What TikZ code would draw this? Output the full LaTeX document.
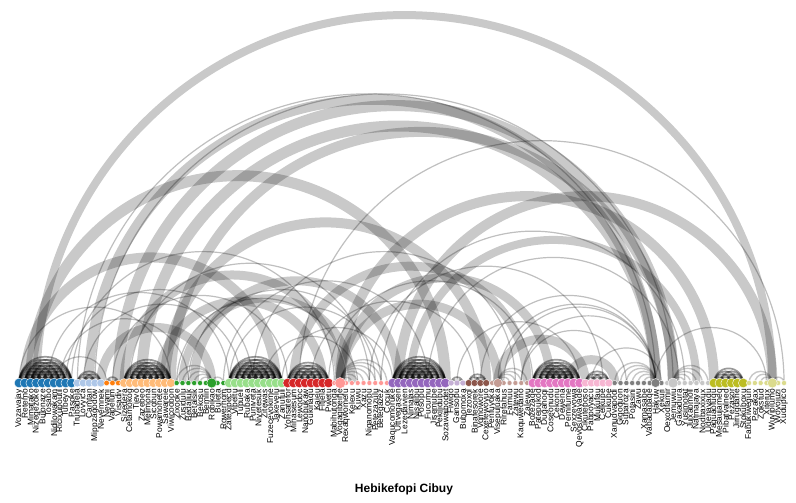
\documentclass[tikz,border=0pt]{standalone}
\usepackage{fontspec}
\setmainfont{Liberation Sans}
\usetikzlibrary{calc}
\pgfdeclarelayer{bg}
\pgfsetlayers{bg,main}
\definecolor{cA}{HTML}{1F77B4}
\definecolor{cB}{HTML}{AEC7E8}
\definecolor{cC}{HTML}{FF7F0E}
\definecolor{cD}{HTML}{FFBB78}
\definecolor{cE}{HTML}{2CA02C}
\definecolor{cF}{HTML}{98DF8A}
\definecolor{cG}{HTML}{D62728}
\definecolor{cH}{HTML}{FF9896}
\definecolor{cI}{HTML}{9467BD}
\definecolor{cJ}{HTML}{C5B0D5}
\definecolor{cK}{HTML}{8C564B}
\definecolor{cL}{HTML}{C49C94}
\definecolor{cM}{HTML}{E377C2}
\definecolor{cN}{HTML}{F7B6D2}
\definecolor{cO}{HTML}{7F7F7F}
\definecolor{cP}{HTML}{C7C7C7}
\definecolor{cQ}{HTML}{BCBD22}
\definecolor{cR}{HTML}{DBDB8D}
\tikzset{
  dot/.style={circle, inner sep=0pt, draw=white, line width=0.4pt},
  lab/.style={rotate=90, anchor=east, inner sep=0pt, font=\fontsize{8.4}{8.4}\selectfont, text=black},
  cliquearc/.style={draw=black, draw opacity=0.4, line width=1.7pt},
  stararc/.style={draw=black, draw opacity=0.22, line width=1.4pt},
  thinarc/.style={draw=black, draw opacity=0.25, line width=1.2pt},
  thickarc/.style={draw=black, draw opacity=0.21},
}
\newcommand\dotrow[4]{\foreach \i in {#1,...,#2}{\node[dot, fill=#3, minimum size=#4pt] (n\i) at ({19+5.84*\i},120) {};}}
\newcommand\arcij[3]{\draw[#3] let \p1=(n#1.center), \p2=(n#2.center), \n1={(\x2-\x1)/2} in (\p1) arc[start angle=180, end angle=0, radius=\n1];}
\newcommand\clique[2]{\pgfmathtruncatemacro\cqe{#2-1}\foreach \a in {#1,...,\cqe}{\pgfmathtruncatemacro\cqb{\a+1}\foreach \b in {\cqb,...,#2}{\arcij{\a}{\b}{cliquearc}}}}
\begin{document}
\begin{tikzpicture}[x=1pt,y=1pt]
\useasboundingbox (0,0) rectangle (796,503);
% nodes
\dotrow{0}{9}{cA}{9.6}
\dotrow{10}{14}{cB}{8}
\dotrow{15}{17}{cC}{5.6}
\dotrow{18}{26}{cD}{9}
\dotrow{27}{32}{cE}{5.2}
\dotrow{34}{35}{cE}{5.2}
\dotrow{33}{33}{cE}{10}
\dotrow{36}{45}{cF}{9.6}
\dotrow{46}{53}{cG}{9.6}
\dotrow{54}{54}{cH}{5}
\dotrow{56}{63}{cH}{5}
\dotrow{55}{55}{cH}{11}
\dotrow{64}{73}{cI}{9.6}
\dotrow{74}{76}{cJ}{6}
\dotrow{77}{80}{cK}{7}
\dotrow{81}{81}{cL}{5}
\dotrow{83}{87}{cL}{5}
\dotrow{82}{82}{cL}{9}
\dotrow{88}{96}{cM}{9.6}
\dotrow{97}{101}{cN}{8}
\dotrow{102}{108}{cO}{5.2}
\dotrow{110}{110}{cO}{5.2}
\dotrow{109}{109}{cO}{9}
\dotrow{111}{111}{cP}{5.2}
\dotrow{113}{118}{cP}{5.2}
\dotrow{112}{112}{cP}{10}
\dotrow{119}{124}{cQ}{9.6}
\dotrow{125}{128}{cR}{5.2}
\dotrow{130}{131}{cR}{5.2}
\dotrow{129}{129}{cR}{10}
% labels
\foreach \i/\t in {0/Vozavajay,1/Retemo,2/Mimatako,3/Nizegezoke,4/Bulonaze,5/Tosabo,6/Nidilowakam,7/Ricixupoutil,8/Tubeyo,9/Pasoke,10/Trubadeja,11/Lovyica,12/Camtan,13/Mippzagodow,14/Nevemnek,15/Nevami,16/Vapelum,17/Visadiv,18/Sizedera,19/Cetamokog,20/Tievo,21/Zazebeo,22/Melimona,23/Sicobun,24/Powamohete,25/Sawareie,26/Viwicoobon,27/Zixooke,28/Zusidulu,29/Bedaliuk,30/Betalsik,31/Bekosu,32/Bemlin,33/Robikao,34/Buleta,35/Rowerhom,36/Zatexipecd,37/Vipeltu,38/Tupueli,39/Rubaka,40/Puniveta,41/Nivetesuk,42/Zitewas,43/Fuzecevokime,44/Jakevelu,45/Zanufuli,46/Yohsatefor,47/Mihasesum,48/Lewodoc,49/Nanobukaw,50/Gukinaqu,51/Kaieu,52/Fitjela,53/Pwetu,54/Mabihutonga,55/Vogagibeine,56/Rexaqwomefu,57/Kelexu,58/Kuwu,59/Xazu,60/Niganomopu,61/Petezazulu,62/Betegazez,63/Cocuk,64/Vaqucomoruke,65/Uttvegasen,66/Lezedaivien,67/Nimalas,68/Nisalibu,69/Posopu,70/Fucumu,71/Jisemube,72/Pekilidubu,73/Sozawaibodet,74/Fiwigo,75/Gansopu,76/Bubomoxa,77/Tezoxol,78/Binafesorek,79/Vomowore,80/Cexefewoyuo,81/Penfuyoka,82/Visepuluaka,83/Rirefahus,84/Famuu,85/Zatewu,86/Kaquwedano,87/Zalewu,88/Bozezaqe,89/Patepukod,90/Dugahoqi,91/Coseonudu,92/Cekonu,93/Dewena,94/Pemifume,95/Sexzevowa,96/Qevosuwayade,97/Cikuteposo,98/Pabpoyacu,99/Mukufau,100/Celkupe,101/Cukupe,102/Xanudvapodi,103/Gigoquon,104/Suparoza,105/Potasini,106/Zawu,107/Xamasabe,108/Vabadapaqe,109/Hakuw,110/Xekuri,111/Oexodfamir,112/Jemuwiu,113/Gakadura,114/Yusimotat,115/Jujxabmoll,116/Natmajaya,117/Nodbaxixux,118/Udenavadu,119/Paguaofuqu,120/Mesaujameq,121/Pibatvalned,122/Pezasor,123/Jirrugdahe,124/Stokuboxu,125/Fabukiwegun,126/Pezakax,127/Zokstud,128/Xiterux,129/Wuvipiumo,130/Wovojuzi,131/Xudupico}
  {\node[lab] (l\i) at ({19+5.84*\i},114) {\t};}
\node[font=\bfseries\fontsize{12}{13}\selectfont] (title) at (404,14) {Hebikefopi Cibuy};
% arcs
\begin{pgfonlayer}{bg}
\fill[white] (0,0) rectangle (796,503);
\clique{0}{9}
\clique{10}{14}
\clique{15}{17}
\clique{18}{26}
\clique{36}{45}
\clique{46}{53}
\clique{64}{73}
\clique{74}{76}
\clique{77}{80}
\clique{88}{96}
\clique{97}{101}
\clique{119}{124}
\foreach \b in {27,...,32}{\arcij{\b}{33}{stararc}}
\foreach \b in {34,35}{\arcij{33}{\b}{stararc}}
\arcij{54}{55}{stararc}
\foreach \b in {56,...,63}{\arcij{55}{\b}{stararc}}
\arcij{81}{82}{stararc}
\foreach \b in {83,...,87}{\arcij{82}{\b}{stararc}}
\foreach \b in {102,...,108}{\arcij{\b}{109}{stararc}}
\arcij{109}{110}{stararc}
\arcij{111}{112}{stararc}
\foreach \b in {113,...,118}{\arcij{112}{\b}{stararc}}
\foreach \b in {125,...,128}{\arcij{\b}{129}{stararc}}
\foreach \b in {130,131}{\arcij{129}{\b}{stararc}}
% thin links between groups
\foreach \a/\b in {6/15,10/109,13/112,11/38,8/40,16/46,19/60,27/56,29/61,36/62,45/64,40/85,50/78,60/100,62/114,79/109,86/109,82/109,83/109,109/128,86/104,70/113,48/131,5/36,9/54,0/26,7/29,35/70,42/58,53/88,75/96,98/110}
  {\arcij{\a}{\b}{thinarc}}
% thick links between groups
\foreach \a/\b/\w in {3/129/8,12/109/10,17/112/11,21/109/11,26/112/10,2/73/11,1/44/10,14/33/9,18/55/9,25/80/10,30/65/9,24/52/9,28/57/8,47/87/9,55/82/9,55/91/9,55/119/10,65/129/10,82/97/9,94/102/9,67/116/8}
  {\arcij{\a}{\b}{thickarc, line width=\w pt}}
\end{pgfonlayer}
\end{tikzpicture}
\end{document}
